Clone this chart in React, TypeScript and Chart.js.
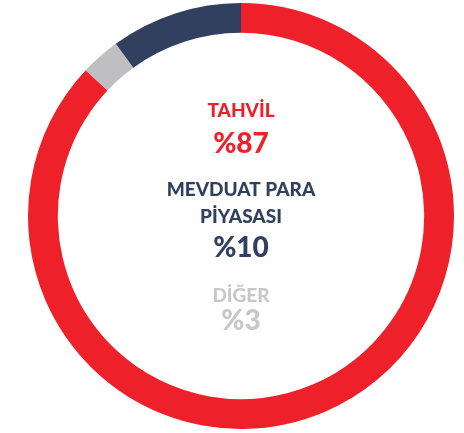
import React, { useEffect, useRef } from "react";
import { Chart, registerables } from "chart.js";

Chart.register(...registerables);

// Ring order (clockwise from top)
const categories = ["TAHVİL", "DİĞER", "MEVDUAT PARA PİYASASI"];
const values = [87, 3, 10];
const colors = ["#EE2029", "#BFBFC1", "#31405F"];

// Centre text blocks (top to bottom)
const centerLabels = [["TAHVİL"], ["MEVDUAT PARA", "PİYASASI"], ["DİĞER"]];
const centerValues = ["%87", "%10", "%3"];
const centerColors = ["#EE2029", "#31405F", "#C8C8CA"];

const FONT = "Lato, 'DejaVu Sans', sans-serif";

const centerText = {
  id: "centerText",
  afterDraw(chart: any) {
    const ctx = chart.ctx as CanvasRenderingContext2D;
    const x = 241;
    ctx.save();
    ctx.textAlign = "center";
    ctx.textBaseline = "alphabetic";
    const layout = [
      { labels: [117], value: 153 },
      { labels: [196, 223], value: 257 },
      { labels: [302], value: 330 },
    ];
    layout.forEach((blk, i) => {
      ctx.fillStyle = centerColors[i];
      ctx.font = `900 19px ${FONT}`;
      centerLabels[i].forEach((t, j) => ctx.fillText(t, x, blk.labels[j]));
      ctx.font = `900 28px ${FONT}`;
      ctx.fillText(centerValues[i], x, blk.value);
    });
    ctx.restore();
  },
};

export default function App() {
  const ref = useRef<HTMLCanvasElement>(null);
  useEffect(() => {
    const chart = new Chart(ref.current!, {
      type: "doughnut",
      data: {
        labels: categories,
        datasets: [
          {
            data: values,
            backgroundColor: colors,
            borderWidth: 0,
          },
        ],
      },
      options: {
        animation: false,
        responsive: false,
        cutout: "86%",
        layout: { padding: { left: 18, right: 0, top: 3, bottom: 4 } },
        plugins: { legend: { display: false }, tooltip: { enabled: false } },
      },
      plugins: [centerText],
    });
    return () => chart.destroy();
  }, []);
  return (
    <div style={{ position: "fixed", left: 0, top: 0, width: 464, height: 433, background: "#fff" }}>
      <canvas ref={ref} width={464} height={433} style={{ width: 464, height: 433 }} />
    </div>
  );
}
